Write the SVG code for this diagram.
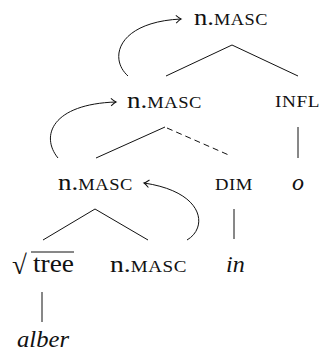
<svg xmlns="http://www.w3.org/2000/svg" width="322" height="354" viewBox="0 0 322 354">
<style>
text{font-family:'Liberation Serif',serif}
.t{font-size:24px;fill:#111}
.sc{font-size:16.5px;letter-spacing:0.5px}
.it{font-style:italic}
.rad{font-size:27px}
.e{stroke:#111;stroke-width:1;fill:none}
.d{stroke-dasharray:6 4}
</style>
<defs>
<marker id="ah" viewBox="-6 -5 8 10" markerWidth="8" markerHeight="10" refX="0" refY="0" orient="auto" markerUnits="userSpaceOnUse">
<path d="M-5,-3.8 Q-1.5,-0.6 0,0 Q-1.5,0.6 -5,3.8" fill="none" stroke="#111" stroke-width="1"/>
</marker>
</defs>
<rect width="322" height="354" fill="#fff"/>
<g id="connectors">
<path class="e" d="M232,45 L166,76 M232,45 L298,76"/>
<path class="e" d="M165,127 L96,158"/>
<path class="e d" d="M167,128 L231,156"/>
<path class="e" d="M298,127 L298,158"/>
<path class="e" d="M95,209 L43,240 M95,209 L148,240"/>
<path class="e" d="M234,209 L234,239"/>
<path class="e" d="M42,292 L42,322"/>
<path class="e" d="M128,76 C108,58 118,22 181,19" marker-end="url(#ah)"/>
<path class="e" d="M58,158 C40,136 52,104 116,102" marker-end="url(#ah)"/>
<path class="e" d="M187,240 C208,228 205,192 144,183" marker-end="url(#ah)"/>
</g>
<g id="n1"><text class="t" x="194" y="25" textLength="74" lengthAdjust="spacingAndGlyphs">n.<tspan class="sc">MASC</tspan></text></g>
<g id="n2"><text class="t" x="127" y="108" textLength="75" lengthAdjust="spacingAndGlyphs">n.<tspan class="sc">MASC</tspan></text></g>
<g id="infl"><text class="t sc" x="275" y="107" textLength="45" lengthAdjust="spacingAndGlyphs">INFL</text></g>
<g id="o"><text class="t it" x="292" y="190">o</text></g>
<g id="n3"><text class="t" x="58" y="190" textLength="75" lengthAdjust="spacingAndGlyphs">n.<tspan class="sc">MASC</tspan></text></g>
<g id="dim"><text class="t sc" x="215" y="190" textLength="38" lengthAdjust="spacingAndGlyphs">DIM</text></g>
<g id="root"><text class="t rad" x="12" y="274">√</text><line class="e" x1="31" y1="252" x2="74" y2="252"/><text class="t" x="33" y="272" style="font-size:25px" textLength="41" lengthAdjust="spacingAndGlyphs">tree</text></g>
<g id="n4"><text class="t" x="110" y="272" textLength="77" lengthAdjust="spacingAndGlyphs">n.<tspan class="sc">MASC</tspan></text></g>
<g id="in"><text class="t it" x="226" y="272">in</text></g>
<g id="alber"><text class="t it" x="17" y="347" textLength="52" lengthAdjust="spacingAndGlyphs">alber</text></g>
</svg>
